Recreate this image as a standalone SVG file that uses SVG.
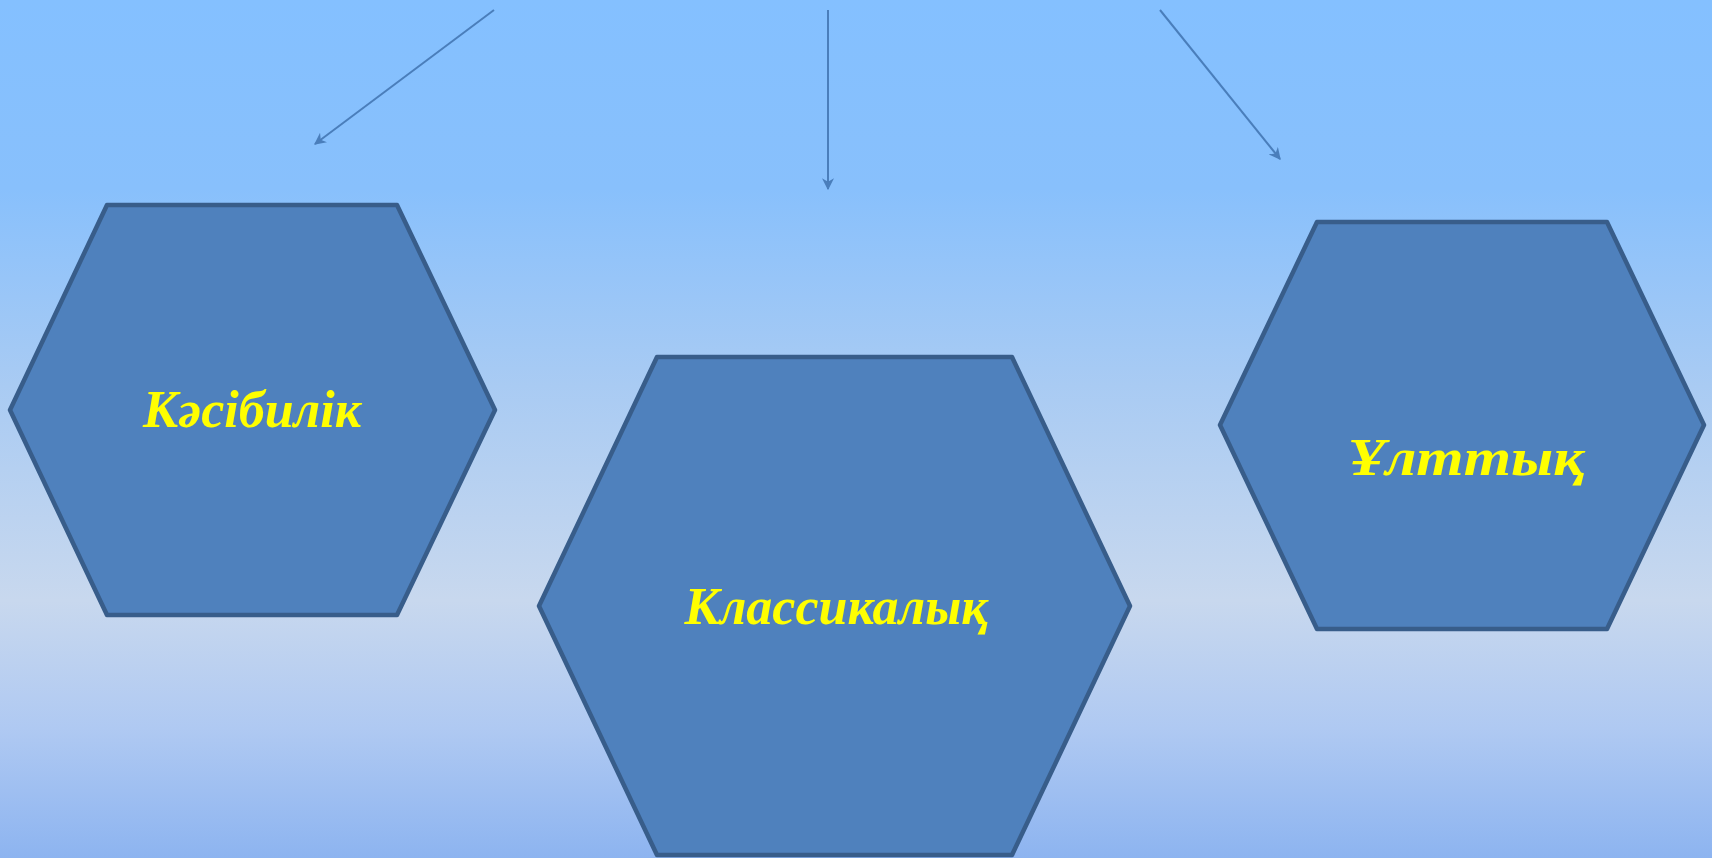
<svg xmlns="http://www.w3.org/2000/svg" width="1712" height="858" viewBox="0 0 1712 858">
  <defs>
    <linearGradient id="bg" x1="0" y1="0" x2="0" y2="1">
      <stop offset="0" stop-color="#84c0ff"/>
      <stop offset="0.22" stop-color="#88c0fc"/>
      <stop offset="0.45" stop-color="#a9cbf3"/>
      <stop offset="0.7" stop-color="#c8d8ee"/>
      <stop offset="0.85" stop-color="#afc9f2"/>
      <stop offset="1" stop-color="#8db4f0"/>
    </linearGradient>
    <marker id="arr" viewBox="0 0 10 10" refX="9" refY="5" markerWidth="6" markerHeight="6" orient="auto" markerUnits="strokeWidth">
      <path d="M0,0 L10,5 L0,10 L3,5 Z" fill="#4a7ebb"/>
    </marker>
  </defs>
  <style>
    .hex { fill: #4f81bd; stroke: #385d8a; stroke-width: 4.5; stroke-linejoin: round; }
    .lbl { font-family: "Liberation Serif", "Times New Roman", serif; font-weight: bold; font-style: italic; font-size: 52px; fill: #ffff00; text-anchor: middle; }
    .conn { stroke: #4a7ebb; stroke-width: 2; fill: none; marker-end: url(#arr); }
  </style>
  <rect x="0" y="0" width="1712" height="858" fill="url(#bg)"/>
  <g id="connectors">
    <line class="conn" x1="494" y1="10" x2="315" y2="144"/>
    <line class="conn" x1="828" y1="10" x2="828" y2="189"/>
    <line class="conn" x1="1160" y1="10" x2="1280" y2="159"/>
  </g>
  <g id="node-kasibilik">
    <polygon class="hex" points="107,205 397,205 495,410 397,615 107,615 10,410"/>
    <text class="lbl" x="252" y="427">Кәсібилік</text>
  </g>
  <g id="node-klassikalyk">
    <polygon class="hex" points="657,357 1012,357 1130,606 1012,855 657,855 539,606"/>
    <text class="lbl" x="836" y="624">Классикалық</text>
  </g>
  <g id="node-ulttyk">
    <polygon class="hex" points="1317,222 1607,222 1704,425 1607,629 1317,629 1220,425"/>
    <text class="lbl" transform="translate(1466,475) scale(1.17,1)" x="0" y="0">Ұлттық</text>
  </g>
</svg>
